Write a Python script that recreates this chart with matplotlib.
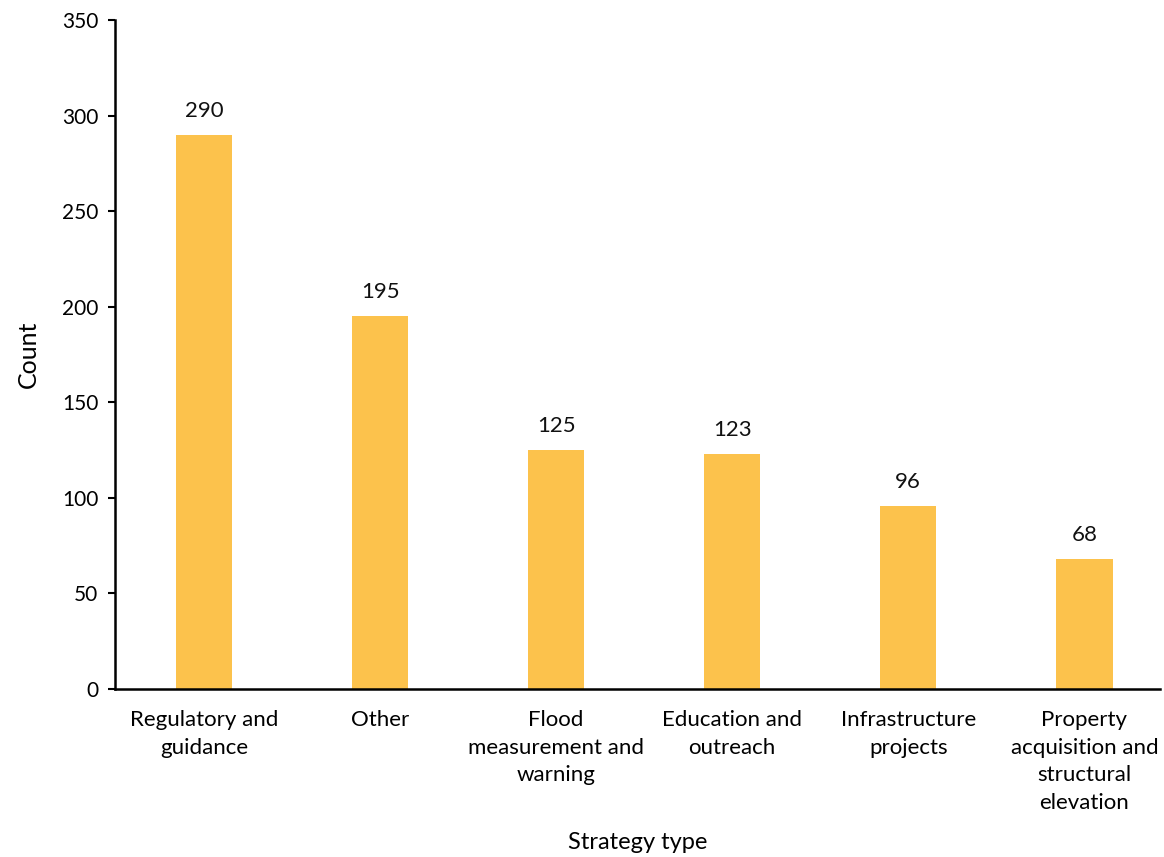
import matplotlib.pyplot as plt

# data
categories = ['Regulatory and\nguidance', 'Other', 'Flood\nmeasurement and\nwarning',
              'Education and\noutreach', 'Infrastructure\nprojects',
              'Property\nacquisition and\nstructural\nelevation']
counts = [290, 195, 125, 123, 96, 68]
y_ticks = [0, 50, 100, 150, 200, 250, 300, 350]

plt.rcParams['font.family'] = ['Lato', 'DejaVu Sans']

fig = plt.figure(figsize=(11.64, 8.57), dpi=100)
ax = fig.add_axes([0.0988, 0.196, 0.8978, 0.7807])

x = list(range(len(categories)))
bars = ax.bar(x, counts, width=0.32, color='#FCC24C')

for xi, v in zip(x, counts):
    ax.annotate(str(v), (xi, v), xytext=(0, 10), textcoords='offset points',
                ha='center', va='bottom', fontsize=16, color='#111111')

ax.set_xlim(-0.506, 5.43)
ax.set_ylim(0, 350)
ax.set_yticks(y_ticks)
ax.set_xticks(x)
ax.set_xticklabels(categories, fontsize=16, linespacing=1.48, va='top')
ax.tick_params(axis='x', length=0, pad=15)
ax.tick_params(axis='y', length=5, width=1.5, labelsize=15, pad=7)
ax.set_ylabel('Count', fontsize=18, labelpad=16)
ax.set_xlabel('Strategy type', fontsize=17, labelpad=14)

for s in ['top', 'right']:
    ax.spines[s].set_visible(False)
for s in ['left', 'bottom']:
    ax.spines[s].set_linewidth(1.8)
    ax.spines[s].set_color('black')

fig.savefig('out.png', dpi=100)
